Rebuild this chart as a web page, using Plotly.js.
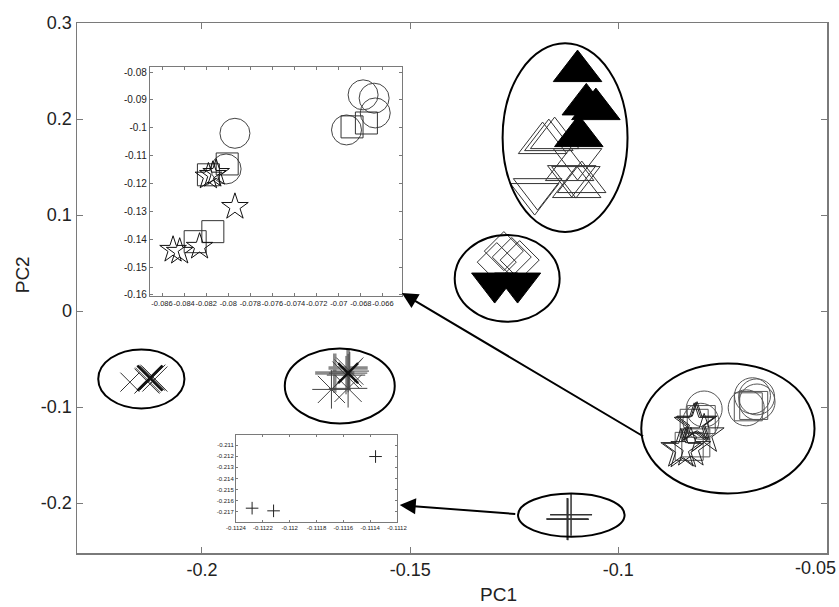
<!DOCTYPE html>
<html>
<head>
<meta charset="utf-8">
<script src="https://cdn.plot.ly/plotly-3.0.1.min.js"></script>
<style>html,body{margin:0;padding:0;background:#fff;}#chart{width:839px;height:607px;}</style>
</head>
<body>
<div id="chart"></div>
<script>
// ---- Data ----
// Cluster A (large ellipse, upper right)
const triUpFilledX = [-0.1098, -0.1077, -0.1054, -0.1095];
const triUpFilledY = [0.2500, 0.2153, 0.2104, 0.1823];
const triUpOpenX = [-0.1167, -0.1182, -0.1153, -0.1117, -0.1100, -0.1088];
const triUpOpenY = [0.1781, 0.1750, 0.1802, 0.1469, 0.1292, 0.1344];
const triDownOpenX = [-0.1201, -0.1194, -0.1112, -0.1102, -0.1098];
const triDownOpenY = [0.1219, 0.1270, 0.1406, 0.1396, 0.1583];
// Cluster B (small ellipse)
const triDownFilledX = [-0.1297, -0.1242];
const triDownFilledY = [0.0292, 0.0292];
const diamondX = [-0.1275, -0.1256, -0.1237, -0.1292];
const diamondY = [0.0625, 0.0563, 0.0531, 0.0510];
// Cluster C (left ellipse, x marks)
const xMarkX = [-0.2173, -0.2125, -0.2120, -0.2118, -0.2113, -0.2130, -0.2132];
const xMarkY = [-0.0740, -0.0698, -0.0698, -0.0688, -0.0708, -0.0719, -0.0729];
// Cluster D (middle ellipse, asterisks)
const asteriskX = [-0.1689, -0.1649, -0.1649, -0.1654, -0.1645];
const asteriskY = [-0.0816, -0.0805, -0.0646, -0.0667, -0.0625];
const crossGrayX = [-0.1681, -0.1649];
const crossGrayY = [-0.0646, -0.0594];
// Cluster E (right ellipse, also zoomed in inset 1)
const circleX = [-0.0794, -0.0802, -0.0678, -0.0668, -0.0667, -0.0693];
const circleY = [-0.1020, -0.1148, -0.0882, -0.0894, -0.0947, -0.1008];
const squareX = [-0.0801, -0.0818, -0.0814, -0.0830, -0.0688, -0.0675];
const squareY = [-0.1130, -0.1169, -0.1373, -0.1409, -0.0997, -0.0983];
const starX = [-0.0794, -0.0814, -0.0818, -0.0811, -0.0850, -0.0844, -0.0826];
const starY = [-0.1284, -0.1169, -0.1175, -0.1162, -0.1438, -0.1445, -0.1427];
// Cluster F (bottom ellipse, also zoomed in inset 2)
const plusX = [-0.11228, -0.11212, -0.11136];
const plusY = [-0.21666, -0.21690, -0.21203];
// Ellipses around clusters A..F
const ellipseX0 = [-0.1278, -0.1393, -0.2249, -0.1801, -0.0945, -0.1241];
const ellipseX1 = [-0.0978, -0.1141, -0.2042, -0.1537, -0.0529, -0.0985];
const ellipseY0 = [0.0823, -0.0111, -0.1014, -0.1170, -0.1899, -0.2351];
const ellipseY1 = [0.2789, 0.0792, -0.0399, -0.0389, -0.0545, -0.1899];
// Arrows (tail -> head)
const arrowTailX = [-0.0937, -0.1244];
const arrowTailY = [-0.1313, -0.2115];
const arrowHeadX = [-0.1520, -0.1525];
const arrowHeadY = [0.0188, -0.2021];
// Tick labels
const mainXTicks = [-0.2, -0.15, -0.1, -0.05];
const mainXText = ['-0.2', '-0.15', '-0.1', '-0.05'];
const mainYTicks = [-0.2, -0.1, 0, 0.1, 0.2, 0.3];
const mainYText = ['-0.2', '-0.1', '0', '0.1', '0.2', '0.3'];
const in1XTicks = [-0.086, -0.084, -0.082, -0.08, -0.078, -0.076, -0.074, -0.072, -0.07, -0.068, -0.066];
const in1XText = ['-0.086', '-0.084', '-0.082', '-0.08', '-0.078', '-0.076', '-0.074', '-0.072', '-0.07', '-0.068', '-0.066'];
const in1YTicks = [-0.16, -0.15, -0.14, -0.13, -0.12, -0.11, -0.1, -0.09, -0.08];
const in1YText = ['-0.16', '-0.15', '-0.14', '-0.13', '-0.12', '-0.11', '-0.1', '-0.09', '-0.08'];
const in2XTicks = [-0.1124, -0.1122, -0.112, -0.1118, -0.1116, -0.1114, -0.1112];
const in2XText = ['-0.1124', '-0.1122', '-0.112', '-0.1118', '-0.1116', '-0.1114', '-0.1112'];
const in2YTicks = [-0.217, -0.216, -0.215, -0.214, -0.213, -0.212, -0.211];
const in2YText = ['-0.217', '-0.216', '-0.215', '-0.214', '-0.213', '-0.212', '-0.211'];
const xTitle = 'PC1';
const yTitle = 'PC2';

const INK = '#1a1a1a';
function mk(x, y, symbol, size, opts) {
  opts = opts || {};
  return {
    type: 'scatter', mode: 'markers', x: x, y: y,
    xaxis: opts.xa || 'x', yaxis: opts.ya || 'y',
    cliponaxis: false, hoverinfo: 'skip', showlegend: false,
    marker: {symbol: symbol, size: size, color: opts.color || INK,
             line: {width: opts.lw || 1, color: opts.color || INK}}
  };
}

const traces = [
  mk(triUpOpenX, triUpOpenY, 'triangle-up-open', 42, {color: '#333'}),
  mk(triDownOpenX, triDownOpenY, 'triangle-down-open', 42, {color: '#333'}),
  mk(triUpFilledX, triUpFilledY, 'triangle-up', 42, {color: '#000', lw: 0}),
  mk(diamondX, diamondY, 'diamond-open', 30, {color: '#333'}),
  mk(triDownFilledX, triDownFilledY, 'triangle-down', 40, {color: '#000', lw: 0}),
  mk(xMarkX.slice(0, 1), xMarkY.slice(0, 1), 'x-thin-open', 19, {color: '#333'}),
  mk(xMarkX.slice(1), xMarkY.slice(1), 'x-thin-open', 25, {color: '#333'}),
  mk(xMarkX.slice(1, 2), xMarkY.slice(1, 2), 'x-thin-open', 25, {color: '#111', lw: 2.5}),
  mk(crossGrayX, crossGrayY, 'cross-thin-open', 28, {color: '#8a8a8a', lw: 3.5}),
  mk(asteriskX, asteriskY, 'asterisk-open', 32, {color: '#444'}),
  mk(asteriskX.slice(2, 3), asteriskY.slice(2, 3), 'x-thin-open', 20, {color: '#111', lw: 2.5}),
  mk(circleX, circleY, 'circle-open', 36, {color: '#555'}),
  mk(squareX, squareY, 'square-open', 28, {color: '#555'}),
  mk(starX, starY, 'star-open', 30, {color: '#222'}),
  mk(plusX, plusY, 'cross-thin-open', 30, {color: '#333', lw: 1.5}),
  // inset 1
  mk(circleX, circleY, 'circle-open', 30, {xa: 'x2', ya: 'y2', color: '#444'}),
  mk(squareX, squareY, 'square-open', 22, {xa: 'x2', ya: 'y2', color: '#333'}),
  mk(starX, starY, 'star-open', 20, {xa: 'x2', ya: 'y2', color: '#111'}),
  // inset 2
  mk(plusX, plusY, 'cross-thin-open', 9, {xa: 'x3', ya: 'y3', color: '#222'})
];

const shapes = ellipseX0.map((x0, i) => ({
  type: 'circle', xref: 'x', yref: 'y',
  x0: x0, x1: ellipseX1[i], y0: ellipseY0[i], y1: ellipseY1[i],
  line: {color: '#000', width: 2}, layer: 'above'
}));

const FONT = 'Liberation Sans, Arial, sans-serif';

// last x tick label sits at the figure edge; draw it as a label pulled inside
const lastIdx = mainXTicks.length - 1;
const mainXTextShown = mainXText.map((t, i) => i === lastIdx ? '' : t);

const annotations = arrowTailX.map((ax, i) => ({
  x: arrowHeadX[i], y: arrowHeadY[i], xref: 'x', yref: 'y',
  ax: ax, ay: arrowTailY[i], axref: 'x', ayref: 'y',
  showarrow: true, arrowhead: 2, arrowsize: 1.6, arrowwidth: 2,
  arrowcolor: '#000', standoff: 0, text: ''
})).concat([
  {text: mainXText[lastIdx], xref: 'paper', yref: 'paper', x: 1, xshift: 11, y: 0, yshift: -15,
   xanchor: 'right', yanchor: 'middle', showarrow: false,
   font: {size: 18, family: FONT, color: '#222'}},
  {text: xTitle, xref: 'paper', yref: 'paper', x: 0.562, y: 0, yshift: -41,
   xanchor: 'center', yanchor: 'middle', showarrow: false,
   font: {size: 19, family: FONT, color: '#222'}},
  {text: yTitle, xref: 'paper', yref: 'paper', x: 0, xshift: -55, y: 0.524,
   xanchor: 'center', yanchor: 'middle', showarrow: false, textangle: -90,
   font: {size: 19, family: FONT, color: '#222'}}
]);

const axisBase = {
  showgrid: false, zeroline: false, showline: true, linecolor: '#7a7a7a', linewidth: 1.5,
  mirror: 'ticks', ticks: 'inside', tickcolor: '#7a7a7a', ticklen: 6, tickwidth: 1,
  tickmode: 'array', fixedrange: true
};

const layout = {
  width: 839, height: 607,
  margin: {l: 77, r: 12, t: 23, b: 54},
  paper_bgcolor: '#fff', plot_bgcolor: '#fff',
  font: {family: FONT, color: '#222'},
  showlegend: false,
  xaxis: Object.assign({}, axisBase, {
    range: [-0.23, -0.0499], tickvals: mainXTicks, ticktext: mainXTextShown,
    tickfont: {size: 18, family: FONT, color: '#222'}
  }),
  yaxis: Object.assign({}, axisBase, {
    range: [-0.252, 0.3001], tickvals: mainYTicks, ticktext: mainYText,
    tickfont: {size: 18, family: FONT, color: '#222'}
  }),
  xaxis2: Object.assign({}, axisBase, {
    domain: [0.0973, 0.4333], anchor: 'y2', linewidth: 1.2, ticklen: 3,
    range: [-0.08709, -0.06428], tickvals: in1XTicks, ticktext: in1XText,
    tickfont: {size: 7.5, family: FONT, color: '#222'}, tickangle: 0
  }),
  yaxis2: Object.assign({}, axisBase, {
    domain: [0.4849, 0.917], anchor: 'x2', linewidth: 1.2, ticklen: 3,
    range: [-0.1604, -0.0782], tickvals: in1YTicks, ticktext: in1YText,
    tickfont: {size: 10, family: FONT, color: '#222'}
  }),
  xaxis3: Object.assign({}, axisBase, {
    domain: [0.212, 0.4267], anchor: 'y3', linewidth: 1, ticklen: 2,
    range: [-0.1124, -0.1112], tickvals: in2XTicks, ticktext: in2XText,
    tickfont: {size: 6, family: FONT, color: '#222'}, tickangle: 0
  }),
  yaxis3: Object.assign({}, axisBase, {
    domain: [0.0585, 0.2226], anchor: 'x3', linewidth: 1, ticklen: 2,
    range: [-0.2179, -0.2101], tickvals: in2YTicks, ticktext: in2YText,
    tickfont: {size: 6, family: FONT, color: '#222'}
  }),
  shapes: shapes,
  annotations: annotations
};

Plotly.newPlot('chart', traces, layout, {staticPlot: true, displayModeBar: false});
</script>
</body>
</html>
